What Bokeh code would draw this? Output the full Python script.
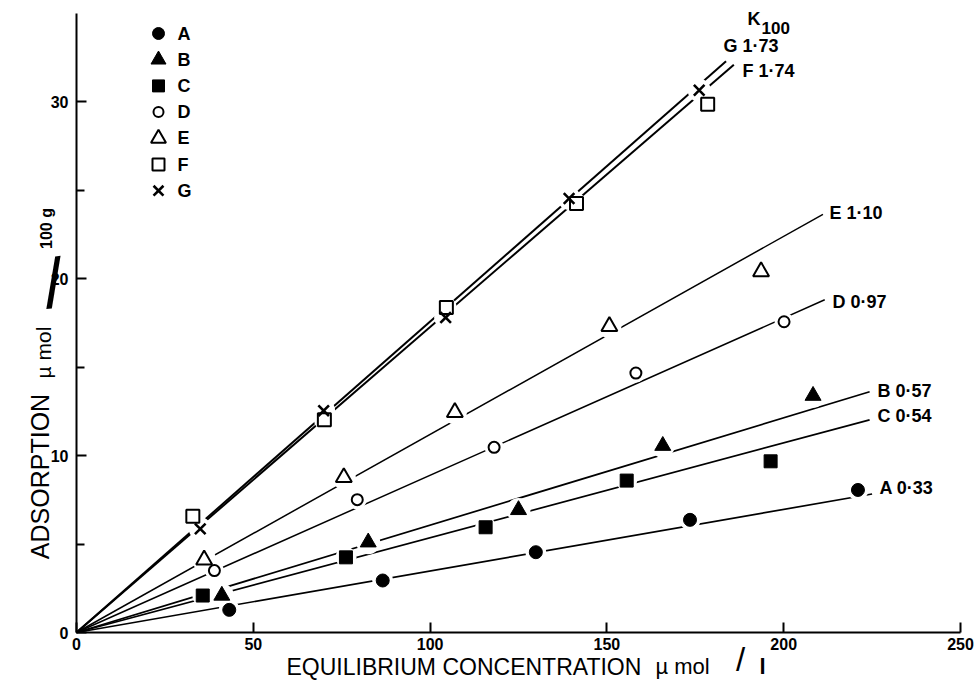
import math
from bokeh.plotting import figure
from bokeh.models import Range1d, FixedTicker, Label
from bokeh.embed import file_html
from bokeh.resources import INLINE

# ---------------- data ----------------
series = ["A", "B", "C", "D", "E", "F", "G"]

A_x = [43.2, 86.6, 129.9, 173.5, 221.0]
A_y = [1.28, 2.94, 4.54, 6.37, 8.06]
B_x = [41.1, 82.5, 125.0, 165.8, 208.3]
B_y = [2.09, 5.10, 6.93, 10.56, 13.39]
C_x = [35.7, 76.2, 115.7, 155.6, 196.3]
C_y = [2.09, 4.25, 5.95, 8.59, 9.68]
D_x = [39.0, 79.4, 118.1, 158.2, 200.1]
D_y = [3.50, 7.51, 10.47, 14.67, 17.57]
E_x = [36.1, 75.6, 107.0, 150.7, 193.6]
E_y = [4.11, 8.77, 12.45, 17.31, 20.41]
F_x = [32.9, 70.1, 104.6, 141.4, 178.5]
F_y = [6.57, 12.03, 18.38, 24.25, 29.87]
G_x = [35.0, 69.9, 104.4, 139.3, 176.1]
G_y = [5.86, 12.54, 17.81, 24.54, 30.66]

k100 = ["0·33", "0·57", "0·54", "0·97", "1·10", "1·74", "1·73"]
fit_slope = [0.0348, 0.0607, 0.0536, 0.0889, 0.1120, 0.1727, 0.1758]
fit_xmax = [225.0, 224.3, 224.3, 211.6, 211.1, 185.9, 183.7]

x_ticks = [0, 50, 100, 150, 200, 250]
y_ticks = [0, 10, 20, 30]
y_minor_ticks = [5, 15, 25]

xs = [A_x, B_x, C_x, D_x, E_x, F_x, G_x]
ys = [A_y, B_y, C_y, D_y, E_y, F_y, G_y]

# ---------------- styles ----------------
STYLE = {
    "A": dict(marker="circle", fill="black", size=13, lw=1.0),
    "B": dict(marker="triangle", fill="black", size=16, lw=1.0),
    "C": dict(marker="square", fill="black", size=13, lw=1.0),
    "D": dict(marker="circle", fill="white", size=11, lw=2.0),
    "E": dict(marker="triangle", fill="white", size=16, lw=2.0),
    "F": dict(marker="square", fill="white", size=13, lw=2.0),
    "G": dict(marker="x", fill=None, size=15, lw=2.6),
}
LINE_W = {"A": 1.7, "B": 1.7, "C": 1.7, "D": 1.5, "E": 1.5, "F": 2.0, "G": 2.0}

FONT = "Liberation Sans"
INK = "black"

# geometry: the plot frame fills the whole canvas; axes sit at the data origin
W, H = 976, 680
ORIG_X = 76.0       # canvas x of data x = 0
ORIG_Y = 632.0      # canvas y of data y = 0
PX_X = 884 / 250    # pixels per x unit
PX_Y = 619 / 35     # pixels per y unit
X_AXIS_END, Y_AXIS_END = 250, 35


def dx(px):
    return (px - ORIG_X) / PX_X


def dy(py):
    return (ORIG_Y - py) / PX_Y


def label(px, py, text, size, bold=False, align="left", angle=0.0):
    p.add_layout(Label(x=dx(px), y=dy(py), text=text, angle=angle, text_font=FONT,
                       text_font_style="bold" if bold else "normal",
                       text_font_size=f"{size}px", text_align=align,
                       text_baseline="middle", text_color=INK))


p = figure(width=W, height=H,
           x_range=Range1d(dx(0), dx(W)), y_range=Range1d(dy(H), dy(0)),
           output_backend="svg", toolbar_location=None,
           min_border_left=0, min_border_right=0, min_border_top=0, min_border_bottom=0)
p.outline_line_color = None
p.grid.visible = False
p.background_fill_color = "white"
p.border_fill_color = "white"

# axes fixed at the origin
p.xaxis.fixed_location = 0
p.yaxis.fixed_location = 0
p.xaxis.bounds = (0, X_AXIS_END)
p.yaxis.bounds = (0, Y_AXIS_END)
p.xaxis.ticker = FixedTicker(ticks=x_ticks)
p.yaxis.ticker = FixedTicker(ticks=y_ticks, minor_ticks=y_minor_ticks)
for ax in (p.xaxis, p.yaxis):
    ax.axis_line_width = 2
    ax.axis_line_color = INK
    ax.major_tick_in = 10
    ax.major_tick_out = 0
    ax.major_tick_line_width = 2
    ax.major_tick_line_color = INK
    ax.minor_tick_out = 0
    ax.minor_tick_line_width = 2
    ax.minor_tick_line_color = INK
    ax.major_label_text_font = FONT
    ax.major_label_text_font_style = "bold"
    ax.major_label_text_font_size = "16px"
    ax.major_label_text_color = INK
p.xaxis.minor_tick_in = 0
p.yaxis.minor_tick_in = 8
p.xaxis.major_label_standoff = 5
p.yaxis.major_label_standoff = 8

# fitted lines through the origin
for i, s in enumerate(series):
    x1 = fit_xmax[i]
    p.line([0, x1], [0, fit_slope[i] * x1], line_color=INK, line_width=LINE_W[s])

# white halos so lines break around the points
for i, s in enumerate(series):
    st = STYLE[s]
    p.scatter(xs[i], ys[i], marker="circle", size=st["size"] + 8,
              fill_color="white", line_color=None)

# data points
for i, s in enumerate(series):
    st = STYLE[s]
    p.scatter(xs[i], ys[i], marker=st["marker"], size=st["size"],
              fill_color=st["fill"], line_color=INK, line_width=st["lw"])

# manual legend (top-left)
LEG_MARK_PX, LEG_TEXT_PX, LEG_TOP_PX, LEG_STEP_PX = 158, 177, 33, 26.2
for i, s in enumerate(series):
    st = STYLE[s]
    row_py = LEG_TOP_PX + i * LEG_STEP_PX
    p.scatter([dx(LEG_MARK_PX)], [dy(row_py)], marker=st["marker"], size=st["size"] - 1,
              fill_color=st["fill"], line_color=INK, line_width=st["lw"])
    label(LEG_TEXT_PX, row_py, s, 18, bold=True)

# series labels at line ends (canvas px: left, centre y)
LABEL_PX = {"A": (879, 487), "B": (877, 390), "C": (877, 415), "D": (832, 301),
            "E": (829, 212), "F": (742, 70), "G": (723, 45)}
for i, s in enumerate(series):
    lx, ly = LABEL_PX[s]
    label(lx, ly, f"{s} {k100[i]}", 18, bold=True)

# K100 header
label(747, 18, "K", 18, bold=True)
label(761, 27, "100", 17, bold=True)

# x-axis title
label(286, 666, "EQUILIBRIUM CONCENTRATION", 23)
label(655, 666, "µ mol", 22)
label(740, 659, "/", 33, align="center")
label(759, 666, "l", 22, bold=True)

# y-axis title (rotated)
ROT = math.pi / 2
label(39, 476, "ADSORPTION", 25, align="center", angle=ROT)
label(43, 352, "µ mol", 21, align="center", angle=ROT)
label(53, 283, "/", 70, align="center", angle=0.1)
label(46, 228, "100 g", 16, bold=True, align="center", angle=ROT)

open("out.html", "w").write(file_html(p, INLINE))
